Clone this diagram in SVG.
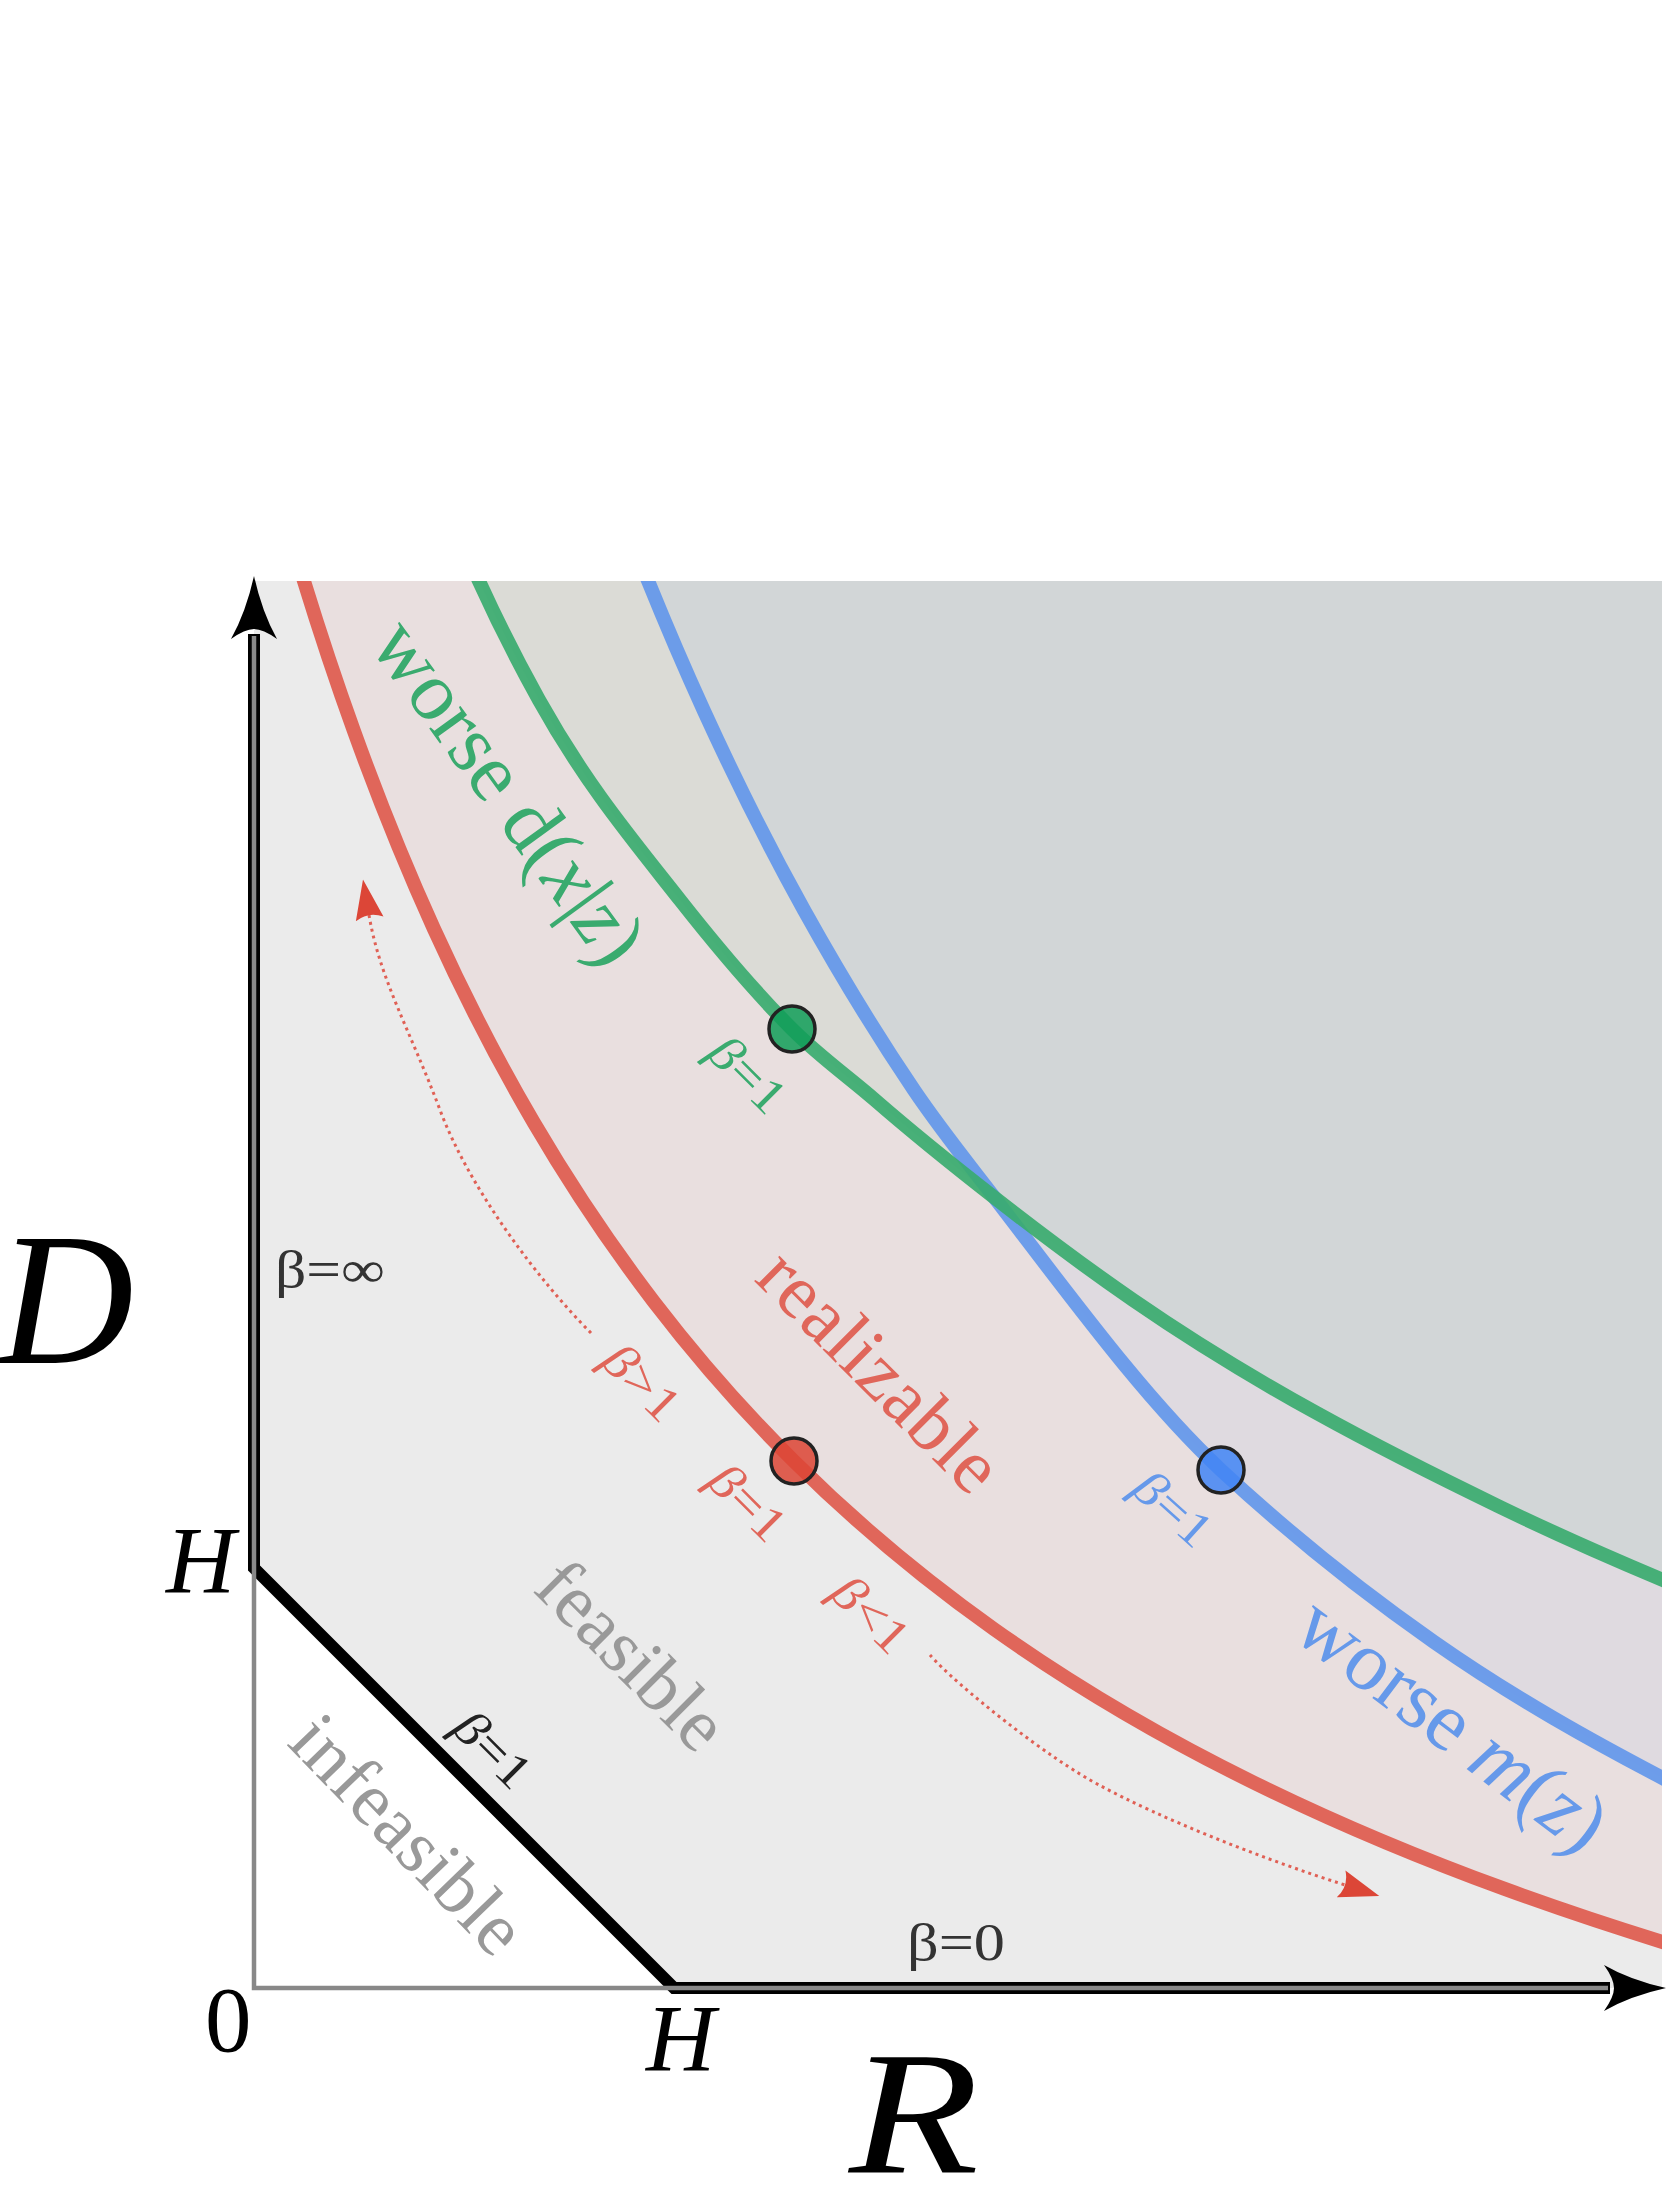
<svg xmlns="http://www.w3.org/2000/svg" width="1668" height="2211" viewBox="0 0 1668 2211">
<defs>
<clipPath id="plot"><rect x="254" y="581" width="1408" height="1407"/></clipPath>
<marker id="ah" markerUnits="userSpaceOnUse" viewBox="0 -16 44 32" markerWidth="44" markerHeight="32" refX="4" refY="0" orient="auto"><path d="M40,0 L0,-14 Q8,0 0,14 Z" fill="#dc4637"/></marker>
<style>
.t{font-family:"Liberation Serif","DejaVu Serif",serif}
.it{font-style:italic}
.big{font-size:188px;fill:#000}
.tick{font-size:96px;fill:#000}
.beta{font-size:52px;fill:#333}
.lab{font-size:50px}
.reg{font-size:76px}
.curve{fill:none;stroke-linejoin:round}
.dot{stroke:#222;stroke-width:3.5}
.dotted{fill:none;stroke:#e06055;stroke-width:3;stroke-dasharray:3 4}
</style>
</defs>
<rect width="1668" height="2211" fill="#ffffff"/>
<g id="regions" clip-path="url(#plot)">
<path id="feasible-region" d="M254,581 L254,1568 L674,1988 L1662,1988 L1662,581 Z" fill="#ebebeb"/>
<path id="realizable-region" d="M289,531.1 C310.67,605.2 332.33,671.1 354,731.2 C380.67,805.2 407.33,870.3 434,929 C467.33,1002.4 500.67,1066 534,1122.9 C574,1191.2 614,1249.7 654,1301.9 C700.67,1362.8 747.33,1414.9 794,1461.2 C860.67,1527.4 927.33,1581.8 994,1629.1 C1080.67,1690.6 1167.33,1740.1 1254,1782.7 C1337.33,1823.7 1420.67,1858.3 1504,1888.7 C1560.67,1909.4 1617.33,1928.2 1674,1945.5 L1674,500 L289,500 Z" fill="#e9dfdf"/>
<path id="worse-d-region" d="M452,522 L479,581 C499,625 519,664 539,700 C586,784.6 633,840.3 680,900 C717.3,947.4 754.7,991.7 792,1029 C819.7,1056.7 847.3,1075.9 875,1100 C915,1134.8 955,1166.8 995,1198 C1041,1233.9 1087,1268.3 1133,1300 C1255.3,1384.4 1377.7,1447.9 1500,1507 C1554.3,1533.2 1608.7,1557.2 1663,1580 L1763,1622 L1763,500 L452,500 Z" fill="#3aab6f" fill-opacity="0.075"/>
<path id="worse-m-region" d="M624,520 C650.67,589.1 677.33,652.6 704,711 C737.33,784 770.67,850 804,910 C840.67,976 877.33,1035.7 914,1090 C940.67,1129.5 967.33,1162.3 994,1197 C1069.67,1295.4 1145.33,1399.6 1221,1470 C1292,1536 1363,1592.3 1434,1642 C1514,1698 1594,1742.4 1674,1784 L1674,500 L624,500 Z" fill="#6496ed" fill-opacity="0.072"/>
</g>
<g id="connectors">
<g id="axes">
<path id="boundary" d="M254,634 L254,1568 L674,1988 L1610,1988" fill="none" stroke="#000" stroke-width="12" stroke-linejoin="miter"/>
<path id="axis-lines" d="M254,636 L254,1988 L1608,1988" fill="none" stroke="#888" stroke-width="4.5"/>
<path id="arrow-D" d="M254,576 Q262,612 277,639 Q263,629 254,629 Q245,629 231,639 Q246,612 254,576 Z" fill="#000"/>
<path id="arrow-R" d="M1666,1988 Q1630,1980 1604,1965 Q1614,1979 1614,1988 Q1614,1997 1604,2011 Q1630,1996 1666,1988 Z" fill="#000"/>
</g>
<g id="curves" clip-path="url(#plot)">
<path id="red-curve" class="curve" d="M289,531.1 C310.67,605.2 332.33,671.1 354,731.2 C380.67,805.2 407.33,870.3 434,929 C467.33,1002.4 500.67,1066 534,1122.9 C574,1191.2 614,1249.7 654,1301.9 C700.67,1362.8 747.33,1414.9 794,1461.2 C860.67,1527.4 927.33,1581.8 994,1629.1 C1080.67,1690.6 1167.33,1740.1 1254,1782.7 C1337.33,1823.7 1420.67,1858.3 1504,1888.7 C1560.67,1909.4 1617.33,1928.2 1674,1945.5" stroke="#e0665a" stroke-width="14"/>
<path id="blue-curve" class="curve" d="M624,520 C650.67,589.1 677.33,652.6 704,711 C737.33,784 770.67,850 804,910 C840.67,976 877.33,1035.7 914,1090 C940.67,1129.5 967.33,1162.3 994,1197 C1069.67,1295.4 1145.33,1399.6 1221,1470 C1292,1536 1363,1592.3 1434,1642 C1514,1698 1594,1742.4 1674,1784" stroke="#6699ea" stroke-width="14" stroke-opacity="0.95"/>
<path id="green-curve" class="curve" d="M452,522 L479,581 C499,625 519,664 539,700 C586,784.6 633,840.3 680,900 C717.3,947.4 754.7,991.7 792,1029 C819.7,1056.7 847.3,1075.9 875,1100 C915,1134.8 955,1166.8 995,1198 C1041,1233.9 1087,1268.3 1133,1300 C1255.3,1384.4 1377.7,1447.9 1500,1507 C1554.3,1533.2 1608.7,1557.2 1663,1580 L1763,1622" stroke="#3aab6f" stroke-width="14" stroke-opacity="0.92"/>
</g>
<path id="arrow-beta-up" class="dotted" d="M591,1333 C540,1282 470,1190 440,1110 C410,1030 380,980 369,915" marker-end="url(#ah)"/>
<path id="arrow-beta-down" class="dotted" d="M930,1655 C955,1684 1050,1760 1101,1786 C1160,1818 1260,1858 1345,1885" marker-end="url(#ah)"/>
</g>
<g id="dots">
<circle id="dot-green" class="dot" cx="792" cy="1029" r="23" fill="#119e58" fill-opacity="0.85"/>
<circle id="dot-red" class="dot" cx="794" cy="1461" r="23" fill="#dc4535" fill-opacity="0.85"/>
<circle id="dot-blue" class="dot" cx="1221" cy="1470" r="23" fill="#4285f4" fill-opacity="0.85"/>
</g>
<g id="labels" class="t">
<text id="label-D" class="big it" x="-2" y="1363">D</text>
<text id="label-R" class="it" style="font-size:176px" fill="#000" x="849" y="2173" textLength="130" lengthAdjust="spacingAndGlyphs">R</text>
<text id="label-H-D" class="tick it" x="166" y="1593">H</text>
<text id="label-H-R" class="tick it" x="646" y="2071">H</text>
<text id="label-0" class="tick" x="205" y="2051" style="font-size:93px">0</text>
<text id="beta-inf" class="beta" x="275" y="1287" textLength="110" lengthAdjust="spacingAndGlyphs">β=∞</text>
<text id="beta-0" class="beta" x="907" y="1960" textLength="98" lengthAdjust="spacingAndGlyphs">β=0</text>
<text id="beta-1-black" class="lab" fill="#222" text-anchor="middle" transform="translate(481,1761) rotate(45)" textLength="88" lengthAdjust="spacingAndGlyphs"><tspan class="it">β</tspan>=1</text>
<text id="beta-1-green" class="lab" fill="#3aab6f" text-anchor="middle" transform="translate(736,1086) rotate(45)" textLength="88" lengthAdjust="spacingAndGlyphs"><tspan class="it">β</tspan>=1</text>
<text id="beta-1-red" class="lab" fill="#e0665a" text-anchor="middle" transform="translate(736,1514) rotate(45)" textLength="88" lengthAdjust="spacingAndGlyphs"><tspan class="it">β</tspan>=1</text>
<text id="beta-1-blue" class="lab" fill="#6699ea" text-anchor="middle" transform="translate(1162,1521) rotate(42)" textLength="88" lengthAdjust="spacingAndGlyphs"><tspan class="it">β</tspan>=1</text>
<text id="beta-gt-1" class="lab" fill="#e0665a" text-anchor="middle" transform="translate(630,1394) rotate(45)" textLength="88" lengthAdjust="spacingAndGlyphs"><tspan class="it">β</tspan>&gt;1</text>
<text id="beta-lt-1" class="lab" fill="#e0665a" text-anchor="middle" transform="translate(859,1626) rotate(45)" textLength="88" lengthAdjust="spacingAndGlyphs"><tspan class="it">β</tspan>&lt;1</text>
<text id="label-realizable" class="reg" style="font-size:78px" fill="#e0665a" text-anchor="middle" transform="translate(862,1389) rotate(45)" textLength="308" lengthAdjust="spacing">realizable</text>
<text id="label-feasible" class="reg" fill="#999" text-anchor="middle" transform="translate(614,1673) rotate(45)" textLength="234" lengthAdjust="spacing">feasible</text>
<text id="label-infeasible" class="reg" fill="#999" text-anchor="middle" transform="translate(390,1852) rotate(46)" textLength="300" lengthAdjust="spacing">infeasible</text>
<text id="label-worse-d" class="reg" style="font-size:84px" fill="#3aab6f" text-anchor="middle" transform="translate(487,808) rotate(54)" textLength="404" lengthAdjust="spacing">worse d(<tspan class="it">x</tspan>|<tspan class="it">z</tspan>)</text>
<text id="label-worse-m" class="reg" style="font-size:84px" fill="#6699ea" text-anchor="middle" transform="translate(1436,1746) rotate(37)" textLength="366" lengthAdjust="spacing">worse <tspan class="it">m</tspan>(<tspan class="it">z</tspan>)</text>
</g>
</svg>
